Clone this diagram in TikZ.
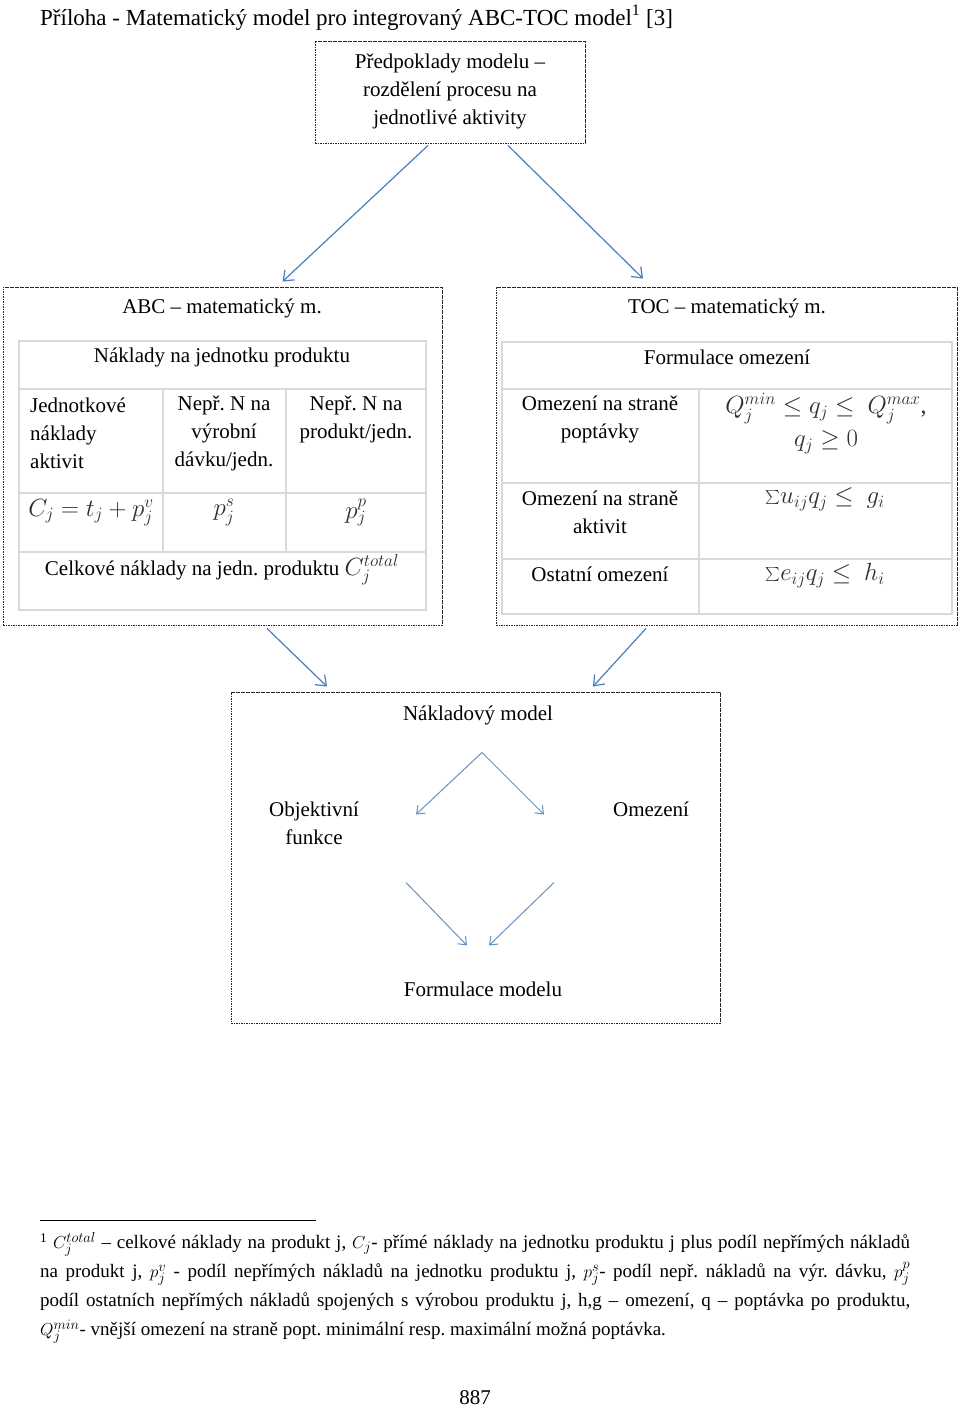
\documentclass[tikz,border=0pt]{standalone}
\usepackage{fontspec}
\setmainfont{Liberation Serif}
\usetikzlibrary{arrows.meta}
\definecolor{arrowblue}{RGB}{74,126,187}
\definecolor{gridgray}{RGB}{217,217,217}
\definecolor{mathgray}{RGB}{45,45,55}
\newcommand{\bigsum}{\raisebox{-2.5pt}{\scalebox{1.4}{$\sum$}}}
\frenchspacing
\begin{document}
\begin{tikzpicture}[x=1pt,y=-1pt,
  every node/.style={inner sep=0pt, yshift=-2.5pt, font=\fontsize{21}{28}\selectfont},
  dbox/.style={draw=black!85, line width=0.9pt, dash pattern=on 1.6pt off 0.9pt, yshift=2.5pt},
  gridline/.style={draw=gridgray, line width=1.4pt},
  bigarrow/.style={draw=arrowblue, line width=1.2pt, -{Straight Barb[length=9pt,width=14pt]}},
  smallarrow/.style={draw=arrowblue!85, line width=1pt, -{Straight Barb[length=7pt,width=11pt]}},
  txt/.style={align=center},
  fm/.style={text=mathgray, font=\fontsize{24}{28}\selectfont}
]
\useasboundingbox (0,0) rectangle (960,1409);

% title
\node[anchor=base west, yshift=2.5pt, font=\fontsize{23}{28}\selectfont] (title) at (40,25) {Příloha - Matematický model pro integrovaný ABC-TOC model\textsuperscript{1} [3]};

% top box
\node[dbox, minimum width=270pt, minimum height=102pt] (pred) at (450,92) {};
\node[txt] (predtxt) at (450,89) {Předpoklady modelu –\\rozdělení procesu na\\jednotlivé aktivity};

% ABC and TOC boxes
\node[dbox, minimum width=439pt, minimum height=338pt] (abc) at (222.5,456) {};
\node[dbox, minimum width=461pt, minimum height=338pt] (toc) at (726.5,456) {};

% middle box
\node[dbox, minimum width=489pt, minimum height=331pt] (mid) at (475.5,857.5) {};

% big arrows
\draw[bigarrow] ([xshift=-22pt,yshift=-2pt]pred.south) -- ([xshift=60pt,yshift=5pt]abc.north);
\draw[bigarrow] ([xshift=58pt,yshift=-2pt]pred.south) -- ([xshift=-83.5pt,yshift=8pt]toc.north);
\draw[bigarrow] ([xshift=44.5pt,yshift=-3pt]abc.south) -- ([xshift=-148.5pt,yshift=5pt]mid.north);
\draw[bigarrow] ([xshift=-80.5pt,yshift=-3pt]toc.south) -- ([xshift=117.5pt,yshift=5pt]mid.north);

% ABC content
\node (abct) at (222,306) {ABC – matematický m.};
\draw[gridline] (19,341) rectangle (426,610);
\draw[gridline] (19,389) -- (426,389);
\draw[gridline] (19,493) -- (426,493);
\draw[gridline] (19,552) -- (426,552);
\draw[gridline] (163,389) -- (163,552);
\draw[gridline] (286,389) -- (286,552);
\node (naklady) at (222,355) {Náklady na jednotku produktu};
\node[align=left, anchor=west] (jedn) at (30,431) {Jednotkové\\náklady\\aktivit};
\node[txt] (nepr1) at (224,431) {Nepř. N na\\výrobní\\dávku/jedn.};
\node[txt] (nepr2) at (356,417) {Nepř. N na\\produkt/jedn.};
\node[fm] (cj) at (91,510) {$C_j = t_j + p_j^v$};
\node[fm] (pjs) at (224,510) {$p_j^s$};
\node[fm] (pjp) at (356,510) {$p_j^p$};
\node (celk) at (222,567) {Celkové náklady na jedn. produktu {\color{mathgray}\fontsize{23}{28}\selectfont$C_j^{total}$}};

% TOC content
\node (toct) at (727,306) {TOC – matematický m.};
\draw[gridline] (502,342) rectangle (952,614);
\draw[gridline] (502,389) -- (952,389);
\draw[gridline] (502,483) -- (952,483);
\draw[gridline] (502,559) -- (952,559);
\draw[gridline] (699,389) -- (699,614);
\node (form) at (727,355) {Formulace omezení};
\node[txt] (om1) at (600,417) {Omezení na straně\\poptávky};
\node[fm] (f1) at (826,406) {$Q_j^{min} \le q_j \le\ Q_j^{max}$,};
\node[fm] (f2) at (826,440) {$q_j \ge 0$};
\node[txt] (om2) at (600,510) {Omezení na straně\\aktivit};
\node[fm] (f3) at (825,497) {\bigsum$u_{ij}q_j \le\ g_i$};
\node (om3) at (600,572) {Ostatní omezení};
\node[fm] (f4) at (825,573) {\bigsum$e_{ij}q_j \le\ h_i$};

% middle content
\node (nm) at (478,713) {Nákladový model};
\node[txt] (obj) at (314,821) {Objektivní\\funkce};
\node (omz) at (651,807) {Omezení};
\node (fmod) at (483,987) {Formulace modelu};
\coordinate (apex) at (482,750);
\coordinate (ltip) at (416,812);
\coordinate (rtip) at (544,812);
\coordinate (lb) at (406,880);
\coordinate (rb) at (554,880);
\coordinate (blt) at (467,943);
\coordinate (brt) at (489,943);
\draw[smallarrow] (apex) -- (ltip);
\draw[smallarrow] (apex) -- (rtip);
\draw[smallarrow] (lb) -- (blt);
\draw[smallarrow] (rb) -- (brt);

% footnote
\draw[line width=1pt] (40,1220) -- (316,1220);
\node[anchor=north west, yshift=2.5pt, text width=870pt, align=justify, font=\fontsize{19}{29}\selectfont] (fn) at (40,1232) {\textsuperscript{1} $C_j^{total}$ – celkové náklady na produkt j, $C_j$- přímé náklady na jednotku produktu j plus podíl nepřímých nákladů\linebreak na produkt j, $p_j^v$ - podíl nepřímých nákladů na jednotku produktu j, $p_j^s$- podíl nepř. nákladů na výr. dávku, $p_j^p$\linebreak podíl ostatních nepřímých nákladů spojených s výrobou produktu j, h,g – omezení, q – poptávka po produktu,\linebreak $Q_j^{min}$- vnější omezení na straně popt. minimální resp. maximální možná poptávka.};

% page number
\node (page) at (475,1395) {887};
\end{tikzpicture}
\end{document}
